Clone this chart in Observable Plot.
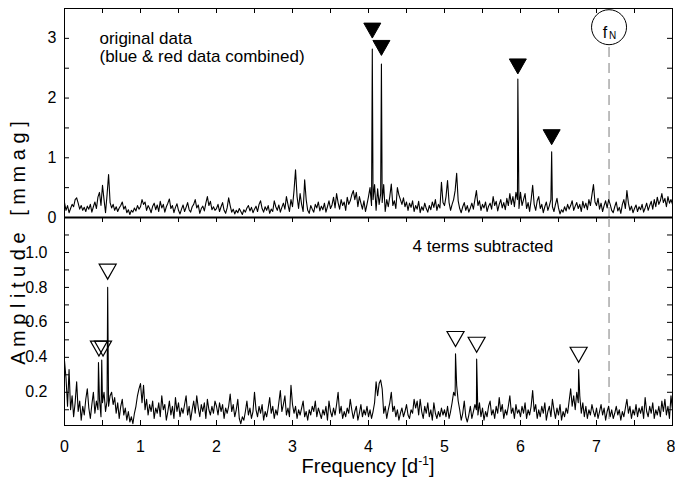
<!DOCTYPE html>
<html><head><meta charset="utf-8">
<script src="https://cdn.jsdelivr.net/npm/d3@7"></script>
<script src="https://cdn.jsdelivr.net/npm/@observablehq/plot@0.6"></script>
<style>
body{margin:0;background:#fff;}
#chart{position:relative;width:675px;height:479px;overflow:hidden;font-family:"Liberation Sans",Arial,Helvetica,sans-serif;color:#000;}
#chart svg{position:absolute;left:0;top:0;}
#ylab{position:absolute;left:18px;top:243px;transform:translate(-50%,-50%) rotate(-90deg);font-size:20px;line-height:20px;white-space:pre;}
#xlab{position:absolute;left:64px;width:608px;top:456px;text-align:center;font-size:20px;line-height:20px;white-space:pre;}
#xlab sup{font-size:12px;line-height:0;vertical-align:8px;}
</style></head><body><div id="chart"><div id="ylab">A m p l i t u d e   [ m m a g ]</div><div id="xlab">Frequency [d<sup>-1</sup>]</div></div>
<script>
// frequency grid of the periodograms (d^-1)
const freqStart = 0, freqStep = 0.02;

// top panel: original data, amplitude in mmag (noise floor, one row per unit of frequency)
const topNoise = [
0.25,0.12,0.20,0.08,0.15,0.22,0.18,0.30,0.33,0.24,0.14,0.20,0.12,0.17,0.10,0.19,0.14,0.22,0.09,0.18,0.26,0.15,0.34,0.42,0.20,0.54,0.30,0.08,0.38,0.72,0.25,0.16,0.22,0.12,0.18,0.10,0.16,0.20,0.26,0.14,0.19,0.08,0.13,0.05,0.12,0.09,0.16,0.11,0.20,0.14,
0.18,0.30,0.22,0.26,0.12,0.20,0.15,0.08,0.19,0.24,0.13,0.21,0.10,0.27,0.16,0.22,0.09,0.18,0.24,0.31,0.15,0.20,0.08,0.17,0.23,0.12,0.06,0.14,0.21,0.10,0.17,0.25,0.13,0.09,0.18,0.22,0.30,0.16,0.21,0.07,0.15,0.19,0.11,0.24,0.35,0.20,0.27,0.13,0.18,0.12,
0.15,0.22,0.10,0.18,0.25,0.12,0.07,0.16,0.33,0.20,0.09,0.14,0.06,0.12,0.08,0.15,0.10,0.05,0.13,0.09,0.16,0.20,0.11,0.17,0.08,0.14,0.19,0.10,0.22,0.28,0.15,0.09,0.18,0.12,0.20,0.07,0.14,0.10,0.28,0.18,0.12,0.21,0.09,0.17,0.24,0.14,0.35,0.22,0.10,0.30,
0.18,0.45,0.80,0.35,0.15,0.40,0.22,0.10,0.63,0.30,0.12,0.07,0.20,0.14,0.09,0.22,0.16,0.26,0.11,0.19,0.13,0.24,0.09,0.18,0.28,0.15,0.21,0.34,0.16,0.40,0.25,0.14,0.30,0.20,0.26,0.12,0.34,0.22,0.28,0.38,0.45,0.30,0.42,0.18,0.35,0.24,0.14,0.28,0.10,0.22,
0.35,0.50,0.20,0.30,0.55,0.12,0.48,0.22,0.40,0.25,0.55,0.10,0.30,0.18,0.35,0.56,0.20,0.28,0.15,0.50,0.38,0.30,0.22,0.33,0.18,0.26,0.12,0.24,0.17,0.28,0.10,0.20,0.14,0.27,0.08,0.18,0.12,0.24,0.15,0.09,0.20,0.13,0.26,0.17,0.30,0.12,0.22,0.16,0.59,0.25,
0.20,0.35,0.62,0.25,0.12,0.22,0.30,0.45,0.74,0.28,0.15,0.08,0.18,0.25,0.12,0.20,0.09,0.16,0.24,0.14,0.30,0.45,0.20,0.28,0.12,0.22,0.16,0.26,0.10,0.19,0.24,0.14,0.35,0.20,0.27,0.11,0.22,0.30,0.16,0.25,0.13,0.32,0.20,0.40,0.22,0.35,0.18,0.42,0.30,0.15,
0.42,0.20,0.30,0.40,0.15,0.25,0.10,0.30,0.54,0.22,0.12,0.28,0.35,0.15,0.22,0.08,0.18,0.26,0.12,0.20,0.30,0.18,0.10,0.22,0.32,0.16,0.06,0.13,0.09,0.18,0.11,0.22,0.14,0.20,0.28,0.12,0.19,0.25,0.15,0.22,0.10,0.27,0.16,0.24,0.13,0.30,0.20,0.38,0.55,0.26,
0.20,0.32,0.14,0.24,0.10,0.20,0.28,0.16,0.30,0.22,0.12,0.08,0.18,0.26,0.11,0.17,0.07,0.22,0.30,0.15,0.45,0.24,0.12,0.19,0.08,0.15,0.21,0.10,0.18,0.13,0.22,0.09,0.16,0.24,0.12,0.20,0.27,0.14,0.30,0.18,0.34,0.22,0.28,0.40,0.25,0.32,0.18,0.35,0.24,0.30,
0.22
];
// top panel: the four main terms
const topPeakFreq = [4.05, 4.17, 5.965, 6.41];
const topPeakAmp  = [2.82, 2.57, 2.32, 1.10];
const topMarkAmp  = [3.13, 2.84, 2.53, 1.345];

// bottom panel: 4 terms subtracted, amplitude in mmag
const bottomNoise = [
0.38,0.28,0.12,0.33,0.10,0.18,0.06,0.14,0.26,0.09,0.15,0.04,0.12,0.07,0.16,0.22,0.11,0.05,0.13,0.20,0.08,0.15,0.10,0.16,0.06,0.14,0.20,0.09,0.15,0.12,0.18,0.20,0.13,0.17,0.08,0.14,0.05,0.12,0.16,0.07,0.11,0.04,0.09,0.03,0.06,0.02,0.08,0.12,0.18,0.22,
0.25,0.14,0.24,0.10,0.16,0.07,0.13,0.09,0.15,0.05,0.11,0.08,0.14,0.06,0.18,0.10,0.13,0.04,0.09,0.15,0.07,0.12,0.05,0.17,0.09,0.14,0.06,0.11,0.08,0.13,0.18,0.07,0.12,0.04,0.10,0.15,0.08,0.18,0.11,0.06,0.13,0.09,0.14,0.05,0.16,0.10,0.07,0.12,0.08,0.15,
0.12,0.07,0.14,0.09,0.13,0.05,0.11,0.08,0.12,0.19,0.09,0.13,0.06,0.10,0.16,0.05,0.02,0.06,0.04,0.09,0.15,0.07,0.11,0.05,0.09,0.20,0.10,0.06,0.12,0.08,0.13,0.04,0.09,0.06,0.11,0.17,0.08,0.12,0.05,0.10,0.07,0.14,0.21,0.09,0.13,0.18,0.07,0.11,0.06,0.24,
0.13,0.08,0.12,0.05,0.10,0.07,0.11,0.15,0.06,0.09,0.04,0.10,0.07,0.12,0.09,0.15,0.06,0.11,0.08,0.05,0.10,0.07,0.12,0.04,0.15,0.09,0.06,0.11,0.07,0.13,0.20,0.08,0.12,0.05,0.09,0.06,0.11,0.08,0.16,0.10,0.05,0.09,0.12,0.04,0.08,0.13,0.06,0.10,0.07,0.12,
0.06,0.10,0.05,0.09,0.14,0.26,0.18,0.25,0.27,0.22,0.08,0.12,0.05,0.10,0.14,0.20,0.09,0.12,0.06,0.10,0.04,0.08,0.11,0.06,0.09,0.13,0.07,0.05,0.10,0.08,0.16,0.11,0.15,0.07,0.16,0.09,0.05,0.12,0.08,0.14,0.06,0.10,0.04,0.14,0.08,0.05,0.09,0.06,0.11,0.07,
0.10,0.06,0.12,0.05,0.09,0.14,0.20,0.18,0.24,0.15,0.10,0.04,0.08,0.15,0.06,0.03,0.07,0.12,0.05,0.09,0.13,0.10,0.07,0.14,0.06,0.11,0.04,0.09,0.06,0.12,0.15,0.07,0.10,0.05,0.12,0.08,0.17,0.09,0.13,0.05,0.10,0.07,0.12,0.18,0.08,0.11,0.05,0.13,0.08,0.10,
0.06,0.12,0.08,0.14,0.05,0.10,0.07,0.12,0.21,0.09,0.13,0.05,0.10,0.06,0.12,0.08,0.14,0.04,0.09,0.12,0.06,0.16,0.10,0.05,0.11,0.07,0.13,0.04,0.09,0.06,0.11,0.08,0.15,0.22,0.12,0.18,0.10,0.20,0.14,0.18,0.08,0.14,0.06,0.12,0.05,0.10,0.07,0.13,0.09,0.06,
0.11,0.05,0.09,0.13,0.07,0.11,0.04,0.09,0.12,0.06,0.10,0.05,0.08,0.12,0.07,0.10,0.04,0.09,0.06,0.11,0.16,0.08,0.12,0.05,0.10,0.07,0.13,0.06,0.11,0.08,0.12,0.05,0.17,0.09,0.06,0.12,0.08,0.14,0.05,0.10,0.07,0.12,0.06,0.15,0.09,0.16,0.07,0.12,0.05,0.18,
0.10
];
// bottom panel: residual peaks and their markers
const bottomPeakFreq = [0.447, 0.49, 0.568, 5.145, 5.423, 6.765];
const bottomPeakAmp  = [0.37, 0.385, 0.80, 0.42, 0.39, 0.33];
const bottomMarkFreq = [0.453, 0.507, 0.568, 5.145, 5.423, 6.765];
const bottomMarkAmp  = [0.45, 0.45, 0.89, 0.505, 0.472, 0.415];

// Nyquist frequency
const nyquistFreq = 7.165;

// ticks
const xTickLabels = [0, 1, 2, 3, 4, 5, 6, 7];
const xLastLabel = [8];
const xTickMarks = [0, 0.5, 1, 1.5, 2, 2.5, 3, 3.5, 4, 4.5, 5, 5.5, 6, 6.5, 7, 7.5, 8];
const topYTickLabels = [0, 1, 2, 3];
const topYTickMarks = [0, 0.5, 1, 1.5, 2, 2.5, 3];
const bottomYTickLabels = [0.2, 0.4, 0.6, 0.8, 1.0];
const bottomYTickMarks = [0.1, 0.2, 0.3, 0.4, 0.5, 0.6, 0.7, 0.8, 0.9, 1.0, 1.1];

function series(noise, pf, pa) {
  const pts = noise.map((a, i) => ({f: +(freqStart + i * freqStep).toFixed(3), a}));
  pf.forEach((f, i) => pts.push({f, a: pa[i]}));
  pts.sort((p, q) => p.f - q.f);
  return pts;
}
const topData = series(topNoise, topPeakFreq, topPeakAmp);
const bottomData = series(bottomNoise, bottomPeakFreq, bottomPeakAmp);
const topMarks = topPeakFreq.map((f, i) => ({f, a: topMarkAmp[i]}));
const bottomMarks = bottomMarkFreq.map((f, i) => ({f, a: bottomMarkAmp[i]}));

const triDown = {draw(ctx, size) {
  const r = Math.sqrt(size / Math.PI), h = r * 1.76;
  ctx.moveTo(-r, -h / 2); ctx.lineTo(r, -h / 2); ctx.lineTo(0, h / 2); ctx.closePath();
}};

const W = 675, H = 479;
const mL = 64, mR = 3, topT = 8, midY = 217, botB = 425;
const plotW = W - mL - mR, topH = midY - topT, botH = botB - midY, tl = 5;
const font = '"Liberation Sans", Arial, Helvetica, sans-serif';
const common = {
  width: W, height: H, marginLeft: mL, marginRight: mR,
  style: {background: "transparent", fontFamily: font, fontSize: "16px", color: "#000"}
};
const nyq = "#a8a8a8";
const tk = {stroke: "#000", strokeWidth: 1};

const topPlot = Plot.plot({
  ...common, marginTop: topT, marginBottom: H - midY,
  x: {domain: [0, 8], axis: null},
  y: {domain: [0, 3.5], axis: null},
  marks: [
    Plot.tickX(xTickMarks, {x: d => d, insetBottom: topH - tl, ...tk}),
    Plot.tickY(topYTickMarks, {y: d => d, insetRight: plotW - tl, ...tk}),
    Plot.tickY(topYTickMarks, {y: d => d, insetLeft: plotW - tl, ...tk}),
    Plot.axisY({anchor: "left", ticks: topYTickLabels, tickSize: 0, tickPadding: 8, tickFormat: "d", label: null, fontSize: 16}),
    Plot.ruleX([nyquistFreq], {y1: 0, y2: 2.9, stroke: nyq, strokeWidth: 1.5, strokeDasharray: "10,6"}),
    Plot.line(topData, {x: "f", y: "a", stroke: "#000", strokeWidth: 1.1}),
    Plot.dot(topMarks, {x: "f", y: "a", symbol: triDown, r: 8.5, fill: "#000", stroke: "#000", strokeWidth: 1}),
    Plot.dot([nyquistFreq], {x: d => d, frameAnchor: "top", dy: 18.7, r: 17.5, fill: "#fff", stroke: "#000", strokeWidth: 1}),
    Plot.text([nyquistFreq], {x: d => d, text: () => "f", frameAnchor: "top", dy: 18.5, dx: -4, fontSize: 16}),
    Plot.text([nyquistFreq], {x: d => d, text: () => "N", frameAnchor: "top", dy: 23.5, dx: 3.5, fontSize: 10}),
    Plot.text(["original data\n(blue & red data combined)"], {frameAnchor: "top-left", dx: 35, dy: 23, textAnchor: "start", lineAnchor: "top", fontSize: 17, lineHeight: 1.06}),
    Plot.ruleY([0], {stroke: "#000", strokeWidth: 2}),
    Plot.frame({stroke: "#000", strokeWidth: 1})
  ]
});

const bottomPlot = Plot.plot({
  ...common, marginTop: midY, marginBottom: H - botB,
  x: {domain: [0, 8]},
  y: {domain: [0.01, 1.2]},
  marks: [
    Plot.tickX(xTickMarks, {x: d => d, insetBottom: botH - tl, ...tk}),
    Plot.tickX(xTickMarks, {x: d => d, insetTop: botH - tl, ...tk}),
    Plot.tickY(bottomYTickMarks, {y: d => d, insetRight: plotW - tl, ...tk}),
    Plot.tickY(bottomYTickMarks, {y: d => d, insetLeft: plotW - tl, ...tk}),
    Plot.axisX({anchor: "bottom", ticks: xTickLabels, tickSize: 0, tickPadding: 15, label: null, fontSize: 16}),
    Plot.axisX({anchor: "bottom", ticks: xLastLabel, tickSize: 0, tickPadding: 15, label: null, fontSize: 16, textAnchor: "end", dx: 3}),
    Plot.axisY({anchor: "left", ticks: bottomYTickLabels, tickSize: 0, tickPadding: 17, tickFormat: ".1f", label: null, fontSize: 16}),
    Plot.ruleX([nyquistFreq], {stroke: nyq, strokeWidth: 1.5, strokeDasharray: "10,6"}),
    Plot.line(bottomData, {x: "f", y: "a", stroke: "#000", strokeWidth: 1.1}),
    Plot.dot(bottomMarks, {x: "f", y: "a", symbol: triDown, r: 8.5, fill: "none", stroke: "#000", strokeWidth: 1.2}),
    Plot.text(["4 terms subtracted"], {frameAnchor: "top-left", dx: 348, dy: 22.5, textAnchor: "start", lineAnchor: "top", fontSize: 17}),
    Plot.frame({stroke: "#000", strokeWidth: 1})
  ]
});

const chart = document.getElementById("chart");
chart.insertBefore(bottomPlot, chart.firstChild);
chart.insertBefore(topPlot, chart.firstChild);
</script>
</body></html>
